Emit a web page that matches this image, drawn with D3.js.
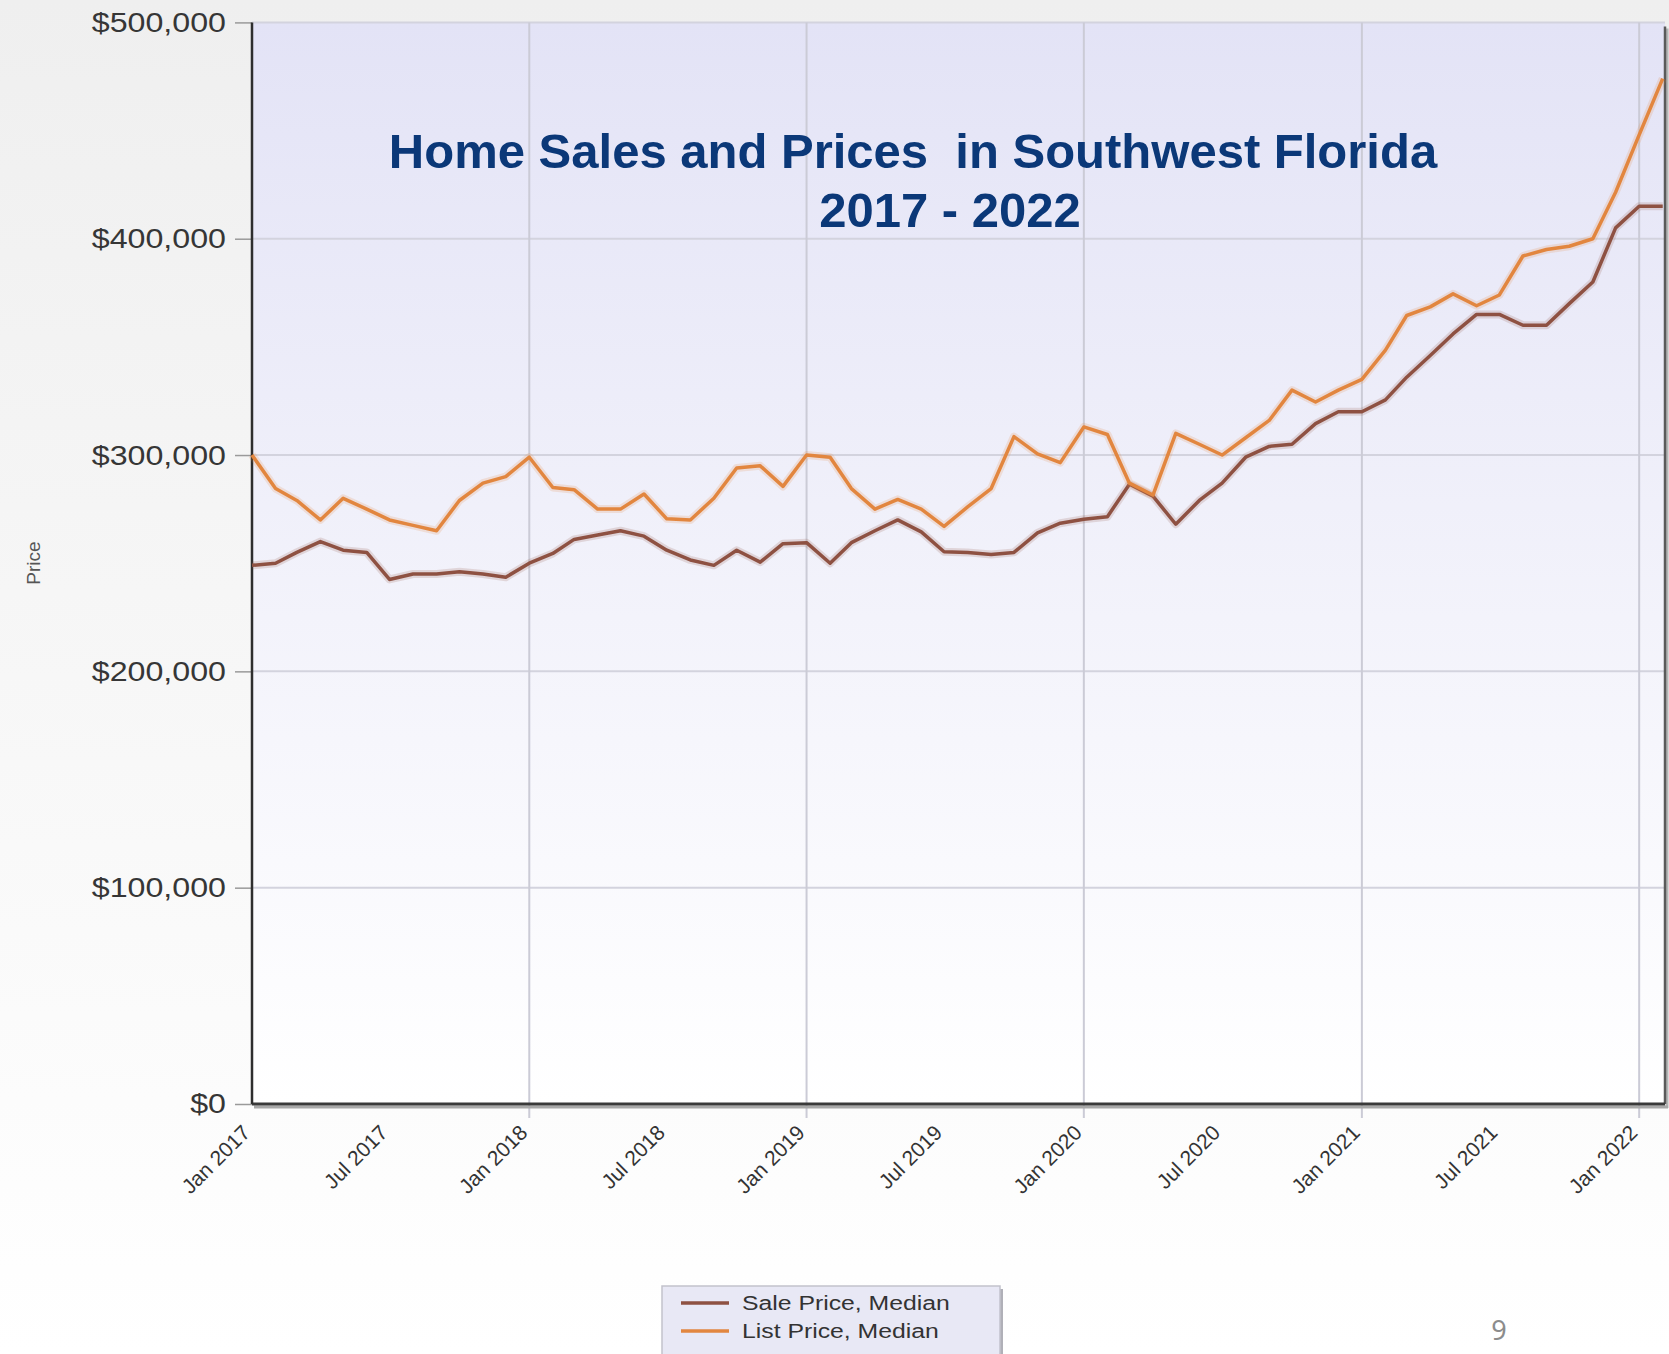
<!DOCTYPE html>
<html>
<head>
<meta charset="utf-8">
<script src="https://cdn.jsdelivr.net/npm/d3@7"></script>
<style>
  html, body { margin: 0; padding: 0; background: #fff; }
  body { width: 1669px; height: 1354px; overflow: hidden; }
  text { font-family: "Liberation Sans", Arial, sans-serif; }
</style>
</head>
<body>
<div id="chart"></div>
<script>
// monthly medians, Jan 2017 .. Feb 2022 (in $)
var salePrice = [
  249000, 250000, 255000, 260000, 256000, 255000, 242500, 245000, 245000, 246000, 245000, 243500,
  250000, 254500, 261000, 263000, 265000, 262500, 256000, 251500, 249000, 256000, 250500, 259000,
  259500, 250000, 259500, 265000, 270000, 264500, 255300, 255000, 254000, 255000, 264000, 268500,
  270300, 271500, 286500, 281000, 268000, 279000, 287000, 299000, 304000, 305000, 314500, 320000,
  320000, 325500, 336000, 346000, 356000, 365000, 365000, 360000, 360000, 370000, 380000, 405000,
  415000, 415000
];
var listPrice = [
  300000, 284500, 279000, 270000, 280000, 275000, 270000, 267500, 265000, 279000, 287000, 290000,
  299000, 285000, 284000, 275000, 275000, 282000, 270500, 270000, 280000, 294000, 295000, 285500,
  300000, 299000, 284500, 275000, 279500, 275000, 267000, 276000, 284500, 308500, 300500, 296500,
  313000, 309500, 287000, 281500, 310000, 305000, 300000, 308000, 316000, 330000, 324500, 330000,
  335000, 348500, 364500, 368500, 374500, 369000, 374000, 392000, 395000, 396500, 400000, 421500,
  448000, 474000
];
var months = d3.utcMonth.range(new Date(Date.UTC(2017, 0, 1)), new Date(Date.UTC(2022, 2, 1)));
var yTicks = [0, 100000, 200000, 300000, 400000, 500000];
var seriesNames = ["Sale Price, Median", "List Price, Median"];
var seriesColors = ["#8e5142", "#e2863f"];
var titleLines = ["Home Sales and Prices  in Southwest Florida", "2017 - 2022"];

var width = 1669, height = 1354;
var plotLeft = 252, plotRight = 1665, plotTop = 22.4, plotBottom = 1104;

var svg = d3.select("#chart").append("svg")
    .attr("width", width)
    .attr("height", height);

var defs = svg.append("defs");
var pageGrad = defs.append("linearGradient").attr("id", "pageGrad")
    .attr("x1", 0).attr("y1", 0).attr("x2", 0).attr("y2", 1);
pageGrad.append("stop").attr("offset", 0).attr("stop-color", "#efefef");
pageGrad.append("stop").attr("offset", 1).attr("stop-color", "#ffffff");
var plotGrad = defs.append("linearGradient").attr("id", "plotGrad")
    .attr("x1", 0).attr("y1", 0).attr("x2", 0).attr("y2", 1);
plotGrad.append("stop").attr("offset", 0).attr("stop-color", "#e3e3f6");
plotGrad.append("stop").attr("offset", 0.55).attr("stop-color", "#f3f3fb");
plotGrad.append("stop").attr("offset", 1).attr("stop-color", "#ffffff");

svg.append("rect").attr("width", width).attr("height", height).attr("fill", "url(#pageGrad)");

var x = d3.scaleUtc()
    .domain([new Date(Date.UTC(2017, 0, 1)), new Date(Date.UTC(2022, 1, 4))])
    .range([plotLeft, plotRight]);
var y = d3.scaleLinear()
    .domain([0, 500000])
    .range([plotBottom, plotTop]);

svg.append("rect")
    .attr("x", plotLeft).attr("y", plotTop)
    .attr("width", plotRight - plotLeft).attr("height", plotBottom - plotTop)
    .attr("fill", "url(#plotGrad)");

// horizontal grid
svg.append("g").selectAll("line")
    .data(yTicks.slice(1))
    .enter().append("line")
    .attr("x1", plotLeft).attr("x2", plotRight)
    .attr("y1", function(d) { return y(d); })
    .attr("y2", function(d) { return y(d); })
    .attr("stroke", "#d3d3de")
    .attr("stroke-width", 2);

// vertical grid at each January, running a little below the axis
var janTicks = d3.utcYear.range(new Date(Date.UTC(2018, 0, 1)), new Date(Date.UTC(2022, 0, 2)));
svg.append("g").selectAll("line")
    .data(janTicks)
    .enter().append("line")
    .attr("x1", function(d) { return x(d); })
    .attr("x2", function(d) { return x(d); })
    .attr("y1", plotTop).attr("y2", plotBottom + 14)
    .attr("stroke", "#cbcbd6")
    .attr("stroke-width", 2);

// y axis
var yAxis = svg.append("g")
    .attr("transform", "translate(" + plotLeft + ",0)")
    .call(d3.axisLeft(y).tickValues(yTicks).tickFormat(d3.format("$,")).tickSize(17));
yAxis.select(".domain").remove();
yAxis.selectAll(".tick line").attr("stroke", "#9a9a9a").attr("stroke-width", 1.5);
yAxis.selectAll(".tick text")
    .attr("x", -26 / 1.15)
    .attr("transform", "scale(1.15,1)")
    .attr("fill", "#363636")
    .style("font-size", "28px");

// x axis labels
var xAxis = svg.append("g")
    .attr("transform", "translate(0," + plotBottom + ")")
    .call(d3.axisBottom(x).ticks(d3.utcMonth.every(6)).tickFormat(d3.utcFormat("%b %Y")).tickSize(0));
xAxis.select(".domain").remove();
xAxis.selectAll(".tick text")
    .attr("x", 0).attr("y", 0).attr("dy", 0)
    .attr("text-anchor", "end")
    .attr("transform", "translate(-1,30) rotate(-45)")
    .attr("fill", "#333")
    .style("font-size", "21px");

// plot frame
svg.append("line")
    .attr("x1", plotRight + 2).attr("x2", plotRight + 2).attr("y1", plotTop + 6).attr("y2", plotBottom + 4)
    .attr("stroke", "#b5b5b5").attr("stroke-width", 3);
svg.append("line")
    .attr("x1", plotRight).attr("x2", plotRight).attr("y1", plotTop + 4).attr("y2", plotBottom)
    .attr("stroke", "#5a5a5a").attr("stroke-width", 2.5);
svg.append("line")
    .attr("x1", plotLeft + 2).attr("x2", plotRight + 3).attr("y1", plotBottom + 3).attr("y2", plotBottom + 3)
    .attr("stroke", "#a8a8a8").attr("stroke-width", 3);
svg.append("line")
    .attr("x1", plotLeft).attr("x2", plotRight).attr("y1", plotBottom).attr("y2", plotBottom)
    .attr("stroke", "#3a3a3a").attr("stroke-width", 3);
svg.append("line")
    .attr("x1", plotLeft).attr("x2", plotLeft).attr("y1", plotTop).attr("y2", plotBottom)
    .attr("stroke", "#2e2e2e").attr("stroke-width", 2.5);

// series
var line = d3.line()
    .x(function(d) { return x(d.date); })
    .y(function(d) { return y(d.value); });

[salePrice, listPrice].forEach(function(values, i) {
  var pts = values.map(function(v, j) { return { date: months[j], value: v }; });
  svg.append("path")
      .datum(pts)
      .attr("fill", "none")
      .attr("stroke", seriesColors[i])
      .attr("stroke-opacity", 0.18)
      .attr("stroke-width", 8)
      .attr("stroke-linejoin", "round")
      .attr("d", line);
  svg.append("path")
      .datum(pts)
      .attr("fill", "none")
      .attr("stroke", seriesColors[i])
      .attr("stroke-width", 3.5)
      .attr("stroke-linejoin", "round")
      .attr("d", line);
});

// y axis title
svg.append("text")
    .attr("transform", "translate(40,563) rotate(-90)")
    .attr("text-anchor", "middle")
    .attr("fill", "#555")
    .style("font-size", "19px")
    .text("Price");

// title
svg.append("text")
    .attr("x", 913).attr("y", 168)
    .attr("text-anchor", "middle")
    .attr("fill", "#0b3878")
    .style("font-size", "49px").style("font-weight", "bold")
    .style("white-space", "pre")
    .text(titleLines[0]);
svg.append("text")
    .attr("x", 950).attr("y", 227)
    .attr("text-anchor", "middle")
    .attr("fill", "#0b3878")
    .style("font-size", "49px").style("font-weight", "bold")
    .text(titleLines[1]);

// legend
var legend = svg.append("g").attr("transform", "translate(662,1286)");
legend.append("rect")
    .attr("x", 3).attr("y", 3).attr("width", 338).attr("height", 90)
    .attr("fill", "#b0b0b8");
legend.append("rect")
    .attr("width", 338).attr("height", 90)
    .attr("fill", "#e8e8f5")
    .attr("stroke", "#c2c2cc").attr("stroke-width", 1.5);
seriesNames.forEach(function(name, i) {
  var yy = 17 + i * 28;
  legend.append("line")
      .attr("x1", 19).attr("x2", 67).attr("y1", yy).attr("y2", yy)
      .attr("stroke", seriesColors[i]).attr("stroke-width", 3.5);
  legend.append("text")
      .attr("x", 80 / 1.18).attr("y", yy + 7)
      .attr("transform", "scale(1.18,1)")
      .attr("fill", "#333")
      .style("font-size", "21px")
      .text(name);
});

// slide number
svg.append("text")
    .attr("x", 1499).attr("y", 1340)
    .attr("text-anchor", "middle")
    .attr("fill", "#8c8c8c")
    .style("font-family", "'Noto Sans', sans-serif")
    .style("font-size", "27px")
    .text("9");
</script>
</body>
</html>
